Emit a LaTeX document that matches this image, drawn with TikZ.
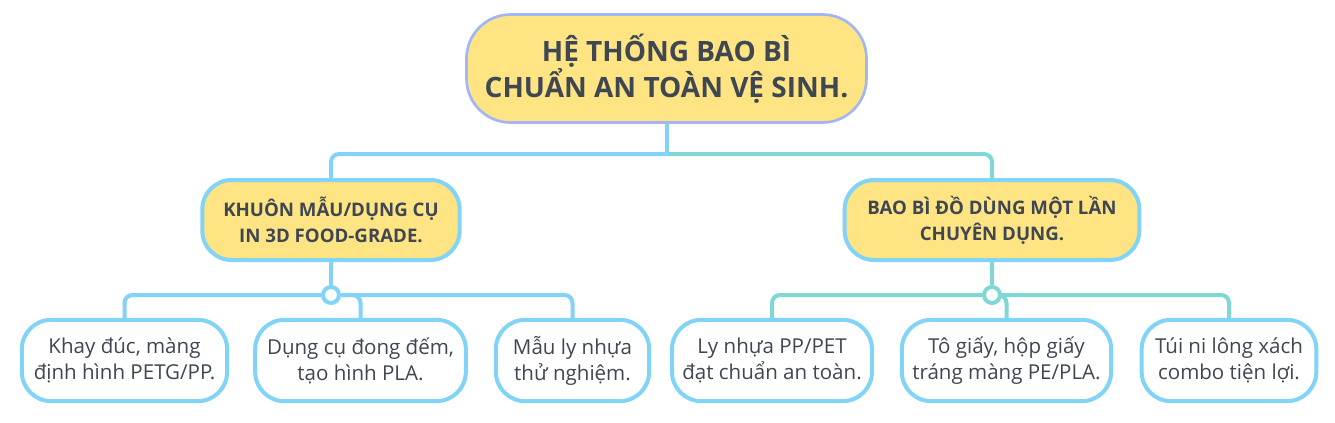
\documentclass[tikz,border=0pt]{standalone}
\usepackage{fontspec}
\setmainfont{Open Sans}
\usetikzlibrary{positioning}

\definecolor{boxfill}{HTML}{FFE483}
\definecolor{rootline}{HTML}{A2B5F6}
\definecolor{blueline}{HTML}{82D3F8}
\definecolor{tealline}{HTML}{80D8D4}
\definecolor{inktext}{HTML}{3E4752}

\begin{document}
\begin{tikzpicture}[x=0.75pt, y=-0.75pt,
    rootbox/.style={draw=rootline, line width=2pt, fill=boxfill, rounded corners=33pt,
        align=center, text=inktext, font=\fontsize{21}{26}\selectfont\bfseries,
        minimum width=300pt, minimum height=81pt, inner sep=0pt},
    midbox/.style={draw=blueline, line width=3pt, fill=boxfill, rounded corners=22pt,
        align=center, text=inktext, font=\fontsize{14}{19.5}\selectfont\bfseries,
        minimum height=60pt, inner sep=0pt},
    leafbox/.style={draw=blueline, line width=3pt, fill=white, rounded corners=22pt,
        align=center, text=inktext, font=\fontsize{15.4}{19.5}\selectfont,
        minimum height=61pt, inner sep=0pt},
    bluelink/.style={draw=blueline, line width=3pt, rounded corners=6pt},
    teallink/.style={draw=tealline, line width=3pt, rounded corners=6pt},
    joint/.style={circle, fill=white, line width=3pt, minimum size=12pt, inner sep=0pt}]
\useasboundingbox (0, 0) rectangle (1335, 422);

% nodes
\node[rootbox] (root) at (666.5, 68.5) {HỆ THỐNG BAO BÌ\\CHUẨN AN TOÀN VỆ SINH.};
\node[midbox, minimum width=193pt] (kmid) at (331, 220) {KHUÔN MẪU/DỤNG CỤ\\IN 3D FOOD-GRADE.};
\node[midbox, minimum width=221pt] (bmid) at (992, 220) {BAO BÌ ĐỒ DÙNG MỘT LẦN\\CHUYÊN DỤNG.};
\coordinate (hub) at (root.south |- 0, 154);

\node[leafbox, minimum width=154pt] (leafa) at (124.5, 360.5) {Khay đúc, màng\\định hình PETG/PP.};
\node[leafbox, minimum width=158pt] (leafb) at (360.5, 360.5) {Dụng cụ đong đếm,\\tạo hình PLA.};
\node[leafbox, minimum width=115pt] (leafc) at (572.5, 360.5) {Mẫu ly nhựa\\thử nghiệm.};
\node[leafbox, minimum width=150pt] (leafd) at (772, 360.5) {Ly nhựa PP/PET\\đạt chuẩn an toàn.};
\node[leafbox, minimum width=157pt] (leafe) at (1006.5, 360.5) {Tô giấy, hộp giấy\\tráng màng PE/PLA.};
\node[leafbox, minimum width=131pt] (leaff) at (1229, 360.5) {Túi ni lông xách\\combo tiện lợi.};

% top level links
\draw[teallink] (hub) -| (bmid.north);
\draw[bluelink] (hub) -| (kmid.north);
\draw[bluelink] (root.south) -- (hub);

% left branch
\node[joint, draw=blueline] (kjoin) at (kmid.south |- 0, 295) {};
\draw[bluelink] (kmid.south) -- (kjoin.north);
\draw[bluelink] (kjoin.west) -| (leafa.north);
\draw[bluelink] (kjoin.east) -| (leafb.north);
\draw[bluelink] (kjoin.east) -| (leafc.north);

% right branch
\node[joint, draw=tealline] (bjoin) at (bmid.south |- 0, 295) {};
\draw[teallink] (bmid.south) -- (bjoin.north);
\draw[teallink] (bjoin.west) -| (leafd.north);
\draw[teallink] (bjoin.east) -| (leafe.north);
\draw[teallink] (bjoin.east) -| (leaff.north);
\end{tikzpicture}
\end{document}
